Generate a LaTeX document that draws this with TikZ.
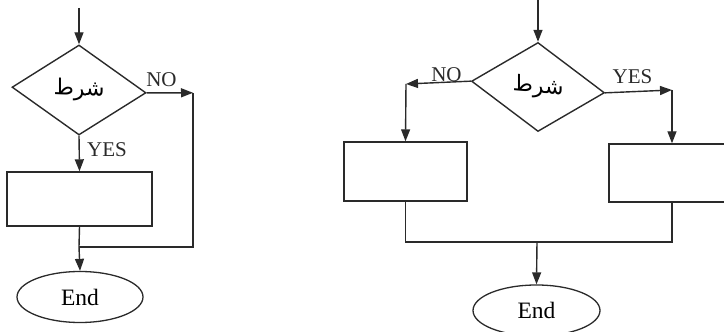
\documentclass[tikz,border=0pt]{standalone}
\usepackage{fontspec}
\setmainfont{Liberation Serif}
\newfontfamily\arabicfont[Script=Arabic]{DejaVu Sans}
\TeXXeTstate=1
\usetikzlibrary{arrows.meta,shapes.geometric}
\definecolor{FlowInk}{HTML}{2A2A2A}
\tikzset{cond/.style={diamond,draw=FlowInk,line width=1.4pt,inner sep=0pt,minimum width=134pt,minimum height=90pt,yslant=-0.042,font=\arabicfont\fontsize{22}{24}\selectfont},task/.style={rectangle,draw=FlowInk,line width=1.4pt,minimum width=#1,minimum height=56pt},term/.style={ellipse,draw=FlowInk,line width=1.3pt,minimum width=126pt,minimum height=51pt,font=\fontsize{23.5}{25}\selectfont},lbl/.style={inner sep=0pt,text=FlowInk,font=\fontsize{21}{23}\selectfont},arr/.style={-{Triangle[length=12pt,width=9pt]},line width=1.4pt,FlowInk},ln/.style={line width=1.4pt,FlowInk}}
\begin{document}
\begin{tikzpicture}[x=1pt,y=1pt]
\useasboundingbox (0,0) rectangle (724,332);
\coordinate (in1) at (79,324);
\node[cond] (cond1) at (79,242) {\beginR شرط\endR};
\node[task=145pt,minimum height=54pt] (task1) at (79.5,133) {};
\node[term] (end1) at (80,35) {End};
\coordinate (no1) at (193,239.2);
\coordinate (merge1) at (79,85);
\node[lbl] (nolbl1) at (161.5,252) {NO};
\node[lbl] (yeslbl1) at (107,182) {YES};
\draw[arr] (in1)--(cond1.north);
\draw[arr] (cond1.east)--(no1);
\draw[ln] (no1)|-(merge1);
\draw[arr] (cond1.south)--(task1.north);
\draw[ln] (task1.south)--(merge1);
\draw[arr] (merge1)--(end1.north);
\coordinate (in2) at (538,334);
\node[cond,minimum width=133pt,minimum height=89pt,yslant=-0.045] (cond2) at (538,245) {\beginR شرط\endR};
\node[task=123pt,minimum height=59pt] (task2) at (405.5,160.5) {};
\node[task=126pt,minimum height=58pt] (task3) at (672,159) {};
\node[term,minimum width=127pt] (end2) at (536.5,21.5) {End};
\coordinate (no2) at (406,248);
\coordinate (yes2) at (672,242);
\coordinate (merge2) at (537,90);
\node[lbl] (nolbl2) at (446.5,257.5) {NO};
\node[lbl] (yeslbl2) at (632.5,255.5) {YES};
\draw[arr] (in2)--(cond2.north);
\draw[arr] (cond2.west)--(no2);
\draw[arr] (no2)--(task2.north);
\draw[arr] (cond2.east)--(yes2);
\draw[arr] (yes2)--(task3.north);
\draw[ln] (task2.south)|-(merge2)-|(task3.south);
\draw[arr] (merge2)--(end2.north);
\end{tikzpicture}
\end{document}
